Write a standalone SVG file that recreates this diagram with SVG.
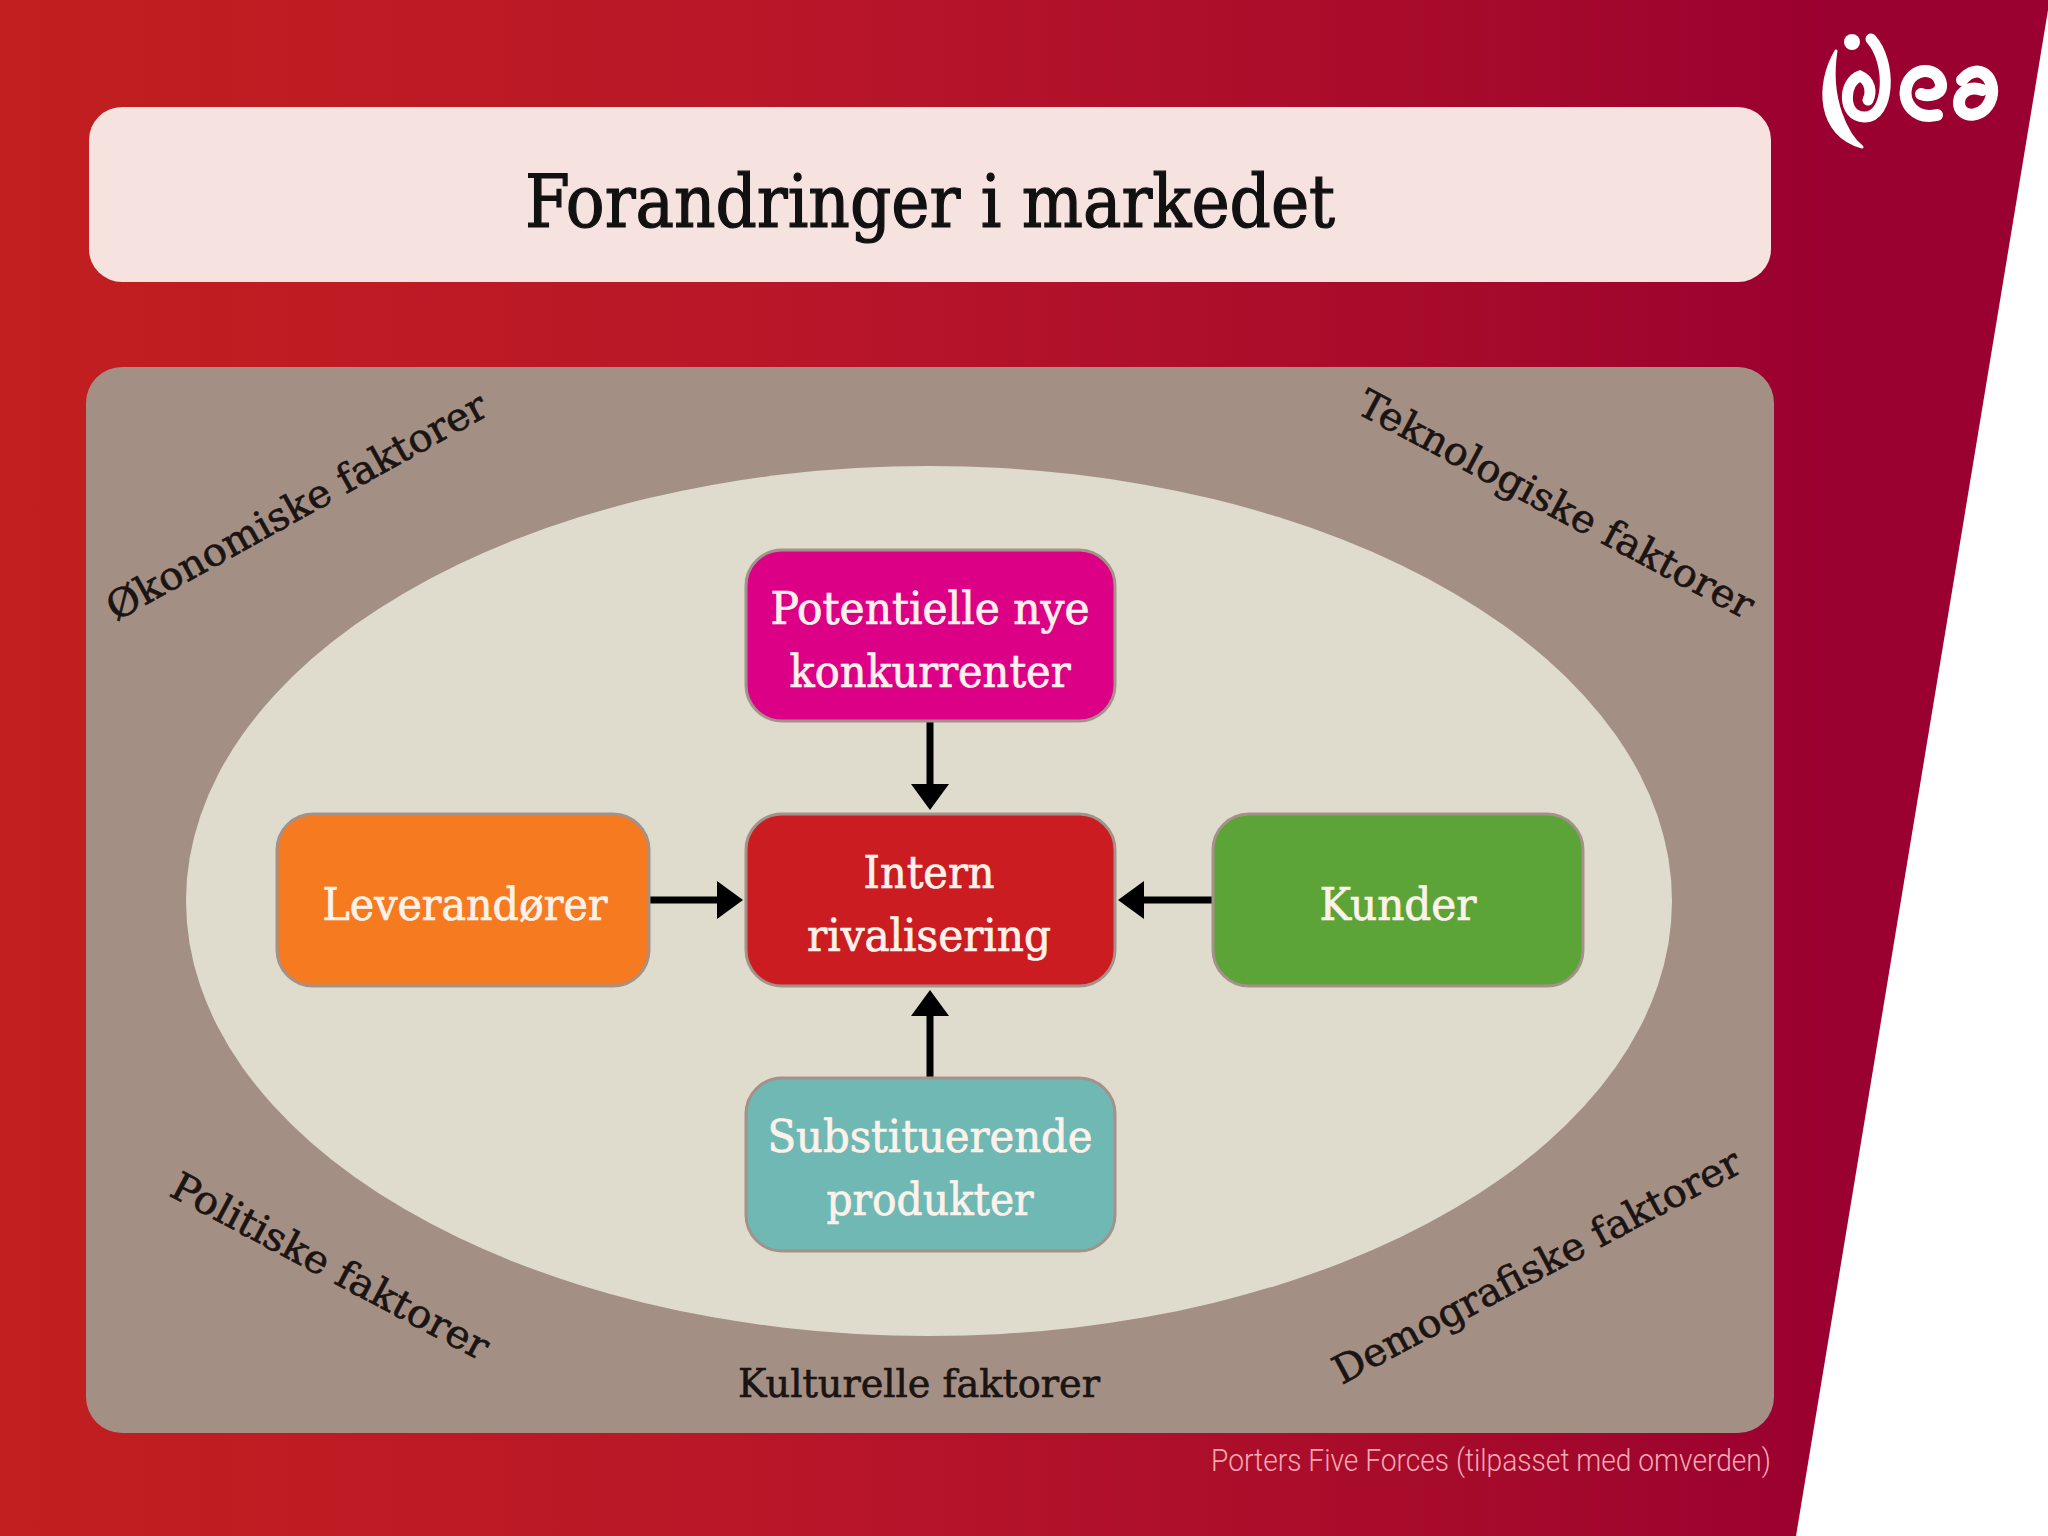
<svg xmlns="http://www.w3.org/2000/svg" width="2048" height="1536" viewBox="0 0 2048 1536">
<defs>
<linearGradient id="bg" x1="0" y1="0" x2="1" y2="0"><stop offset="0" stop-color="#c21f20"/><stop offset="0.38" stop-color="#b91629"/><stop offset="0.72" stop-color="#a60a2b"/><stop offset="0.9" stop-color="#9a0030"/><stop offset="1" stop-color="#9a0030"/></linearGradient>
<marker id="ah" markerUnits="userSpaceOnUse" markerWidth="30" markerHeight="44" refX="4" refY="21" orient="auto"><path d="M0 2 L0 40 L26 21 Z" fill="#000"/></marker>
</defs>
<style>
.n{stroke:#a3918a;stroke-width:3}
.w{font-family:"DejaVu Serif Condensed","DejaVu Serif",serif;font-size:44px;fill:#fdf2ea;stroke:#fdf2ea;stroke-width:.7;text-anchor:middle}
.f{font-family:"DejaVu Serif Condensed","DejaVu Serif",serif;font-size:39px;fill:#1a1412;stroke:#1a1412;stroke-width:.6;text-anchor:middle}
.c{stroke:#000;stroke-width:7;fill:none;marker-end:url(#ah)}
.l{fill:none;stroke:#fff;stroke-linecap:round}
</style>
<rect width="2048" height="1536" fill="url(#bg)"/>
<polygon points="2048,10 2048,1536 1796,1536" fill="#fff"/>
<g id="logo">
<circle cx="1852" cy="42" r="8" fill="#fff"/>
<path d="M1836 51 C1816 85 1818 135 1862 147 C1848 136 1828 100 1836 51 Z" fill="#fff" stroke="#fff" stroke-width="3" stroke-linejoin="round"/>
<path class="l" stroke-width="11" d="M1871 39 C1892 62 1890 118 1864 117 C1842 116 1843 82 1860 76 C1870 80 1872 92 1868 100"/>
<path class="l" stroke-width="12" d="M1937 115 C1914 120 1903 102 1906 88 C1911 66 1938 66 1941 84 C1942 94 1930 97 1921 94"/>
<path class="l" stroke-width="12" d="M1962 80 C1978 62 1994 76 1992 94 C1988 120 1958 120 1959 102 C1960 90 1972 86 1982 90"/>
</g>
<g id="title"><rect x="89" y="107" width="1682" height="175" rx="33" fill="#f6e3df"/>
<text x="930" y="227" font-family="DejaVu Serif Condensed,DejaVu Serif,serif" font-size="72" fill="#111" stroke="#111" stroke-width="1.2" text-anchor="middle" textLength="810" lengthAdjust="spacingAndGlyphs">Forandringer i markedet</text></g>
<g id="omverden"><rect x="86" y="367" width="1688" height="1066" rx="36" fill="#a48f85"/>
<ellipse cx="929" cy="901" rx="743" ry="435" fill="#dfdccd"/></g>
<g id="faktorer">
<text class="f" transform="translate(303 518) rotate(-29)" textLength="428" lengthAdjust="spacingAndGlyphs">Økonomiske faktorer</text>
<text class="f" transform="translate(1550 516) rotate(28)" textLength="442" lengthAdjust="spacingAndGlyphs">Teknologiske faktorer</text>
<text class="f" transform="translate(324 1278) rotate(28)" textLength="354" lengthAdjust="spacingAndGlyphs">Politiske faktorer</text>
<text class="f" transform="translate(1543 1278) rotate(-28)" textLength="456" lengthAdjust="spacingAndGlyphs">Demografiske faktorer</text>
<text class="f" x="919" y="1397" textLength="362" lengthAdjust="spacingAndGlyphs">Kulturelle faktorer</text>
</g>
<g id="connectors">
<line class="c" x1="930" y1="721" x2="930" y2="788"/>
<line class="c" x1="649" y1="900" x2="721" y2="900"/>
<line class="c" x1="1213" y1="900" x2="1140" y2="900"/>
<line class="c" x1="930" y1="1079" x2="930" y2="1012"/>
</g>
<g id="potentielle"><rect class="n" x="746" y="550" width="369" height="171" rx="36" fill="#dc0087"/>
<text class="w" x="930" y="624" textLength="319" lengthAdjust="spacingAndGlyphs">Potentielle nye</text>
<text class="w" x="930" y="687" textLength="281" lengthAdjust="spacingAndGlyphs">konkurrenter</text></g>
<g id="intern"><rect class="n" x="746" y="814" width="369" height="172" rx="36" fill="#cb1c22"/>
<text class="w" x="929" y="888" textLength="131" lengthAdjust="spacingAndGlyphs">Intern</text>
<text class="w" x="929" y="951" textLength="244" lengthAdjust="spacingAndGlyphs">rivalisering</text></g>
<g id="leverandorer"><rect class="n" x="277" y="814" width="372" height="172" rx="36" fill="#f57a20"/>
<text class="w" x="465" y="920" textLength="285" lengthAdjust="spacingAndGlyphs">Leverandører</text></g>
<g id="kunder"><rect class="n" x="1213" y="814" width="370" height="172" rx="36" fill="#5ca338"/>
<text class="w" x="1398" y="920" textLength="157" lengthAdjust="spacingAndGlyphs">Kunder</text></g>
<g id="substituerende"><rect class="n" x="746" y="1078" width="369" height="173" rx="36" fill="#6fb8b4"/>
<text class="w" x="930" y="1152" textLength="325" lengthAdjust="spacingAndGlyphs">Substituerende</text>
<text class="w" x="930" y="1215" textLength="207" lengthAdjust="spacingAndGlyphs">produkter</text></g>
<text id="kilde" x="1771" y="1471" font-family="Roboto,Liberation Sans,sans-serif" font-weight="300" font-size="31" fill="#f5a9b5" text-anchor="end" textLength="560" lengthAdjust="spacingAndGlyphs">Porters Five Forces (tilpasset med omverden)</text>
</svg>
